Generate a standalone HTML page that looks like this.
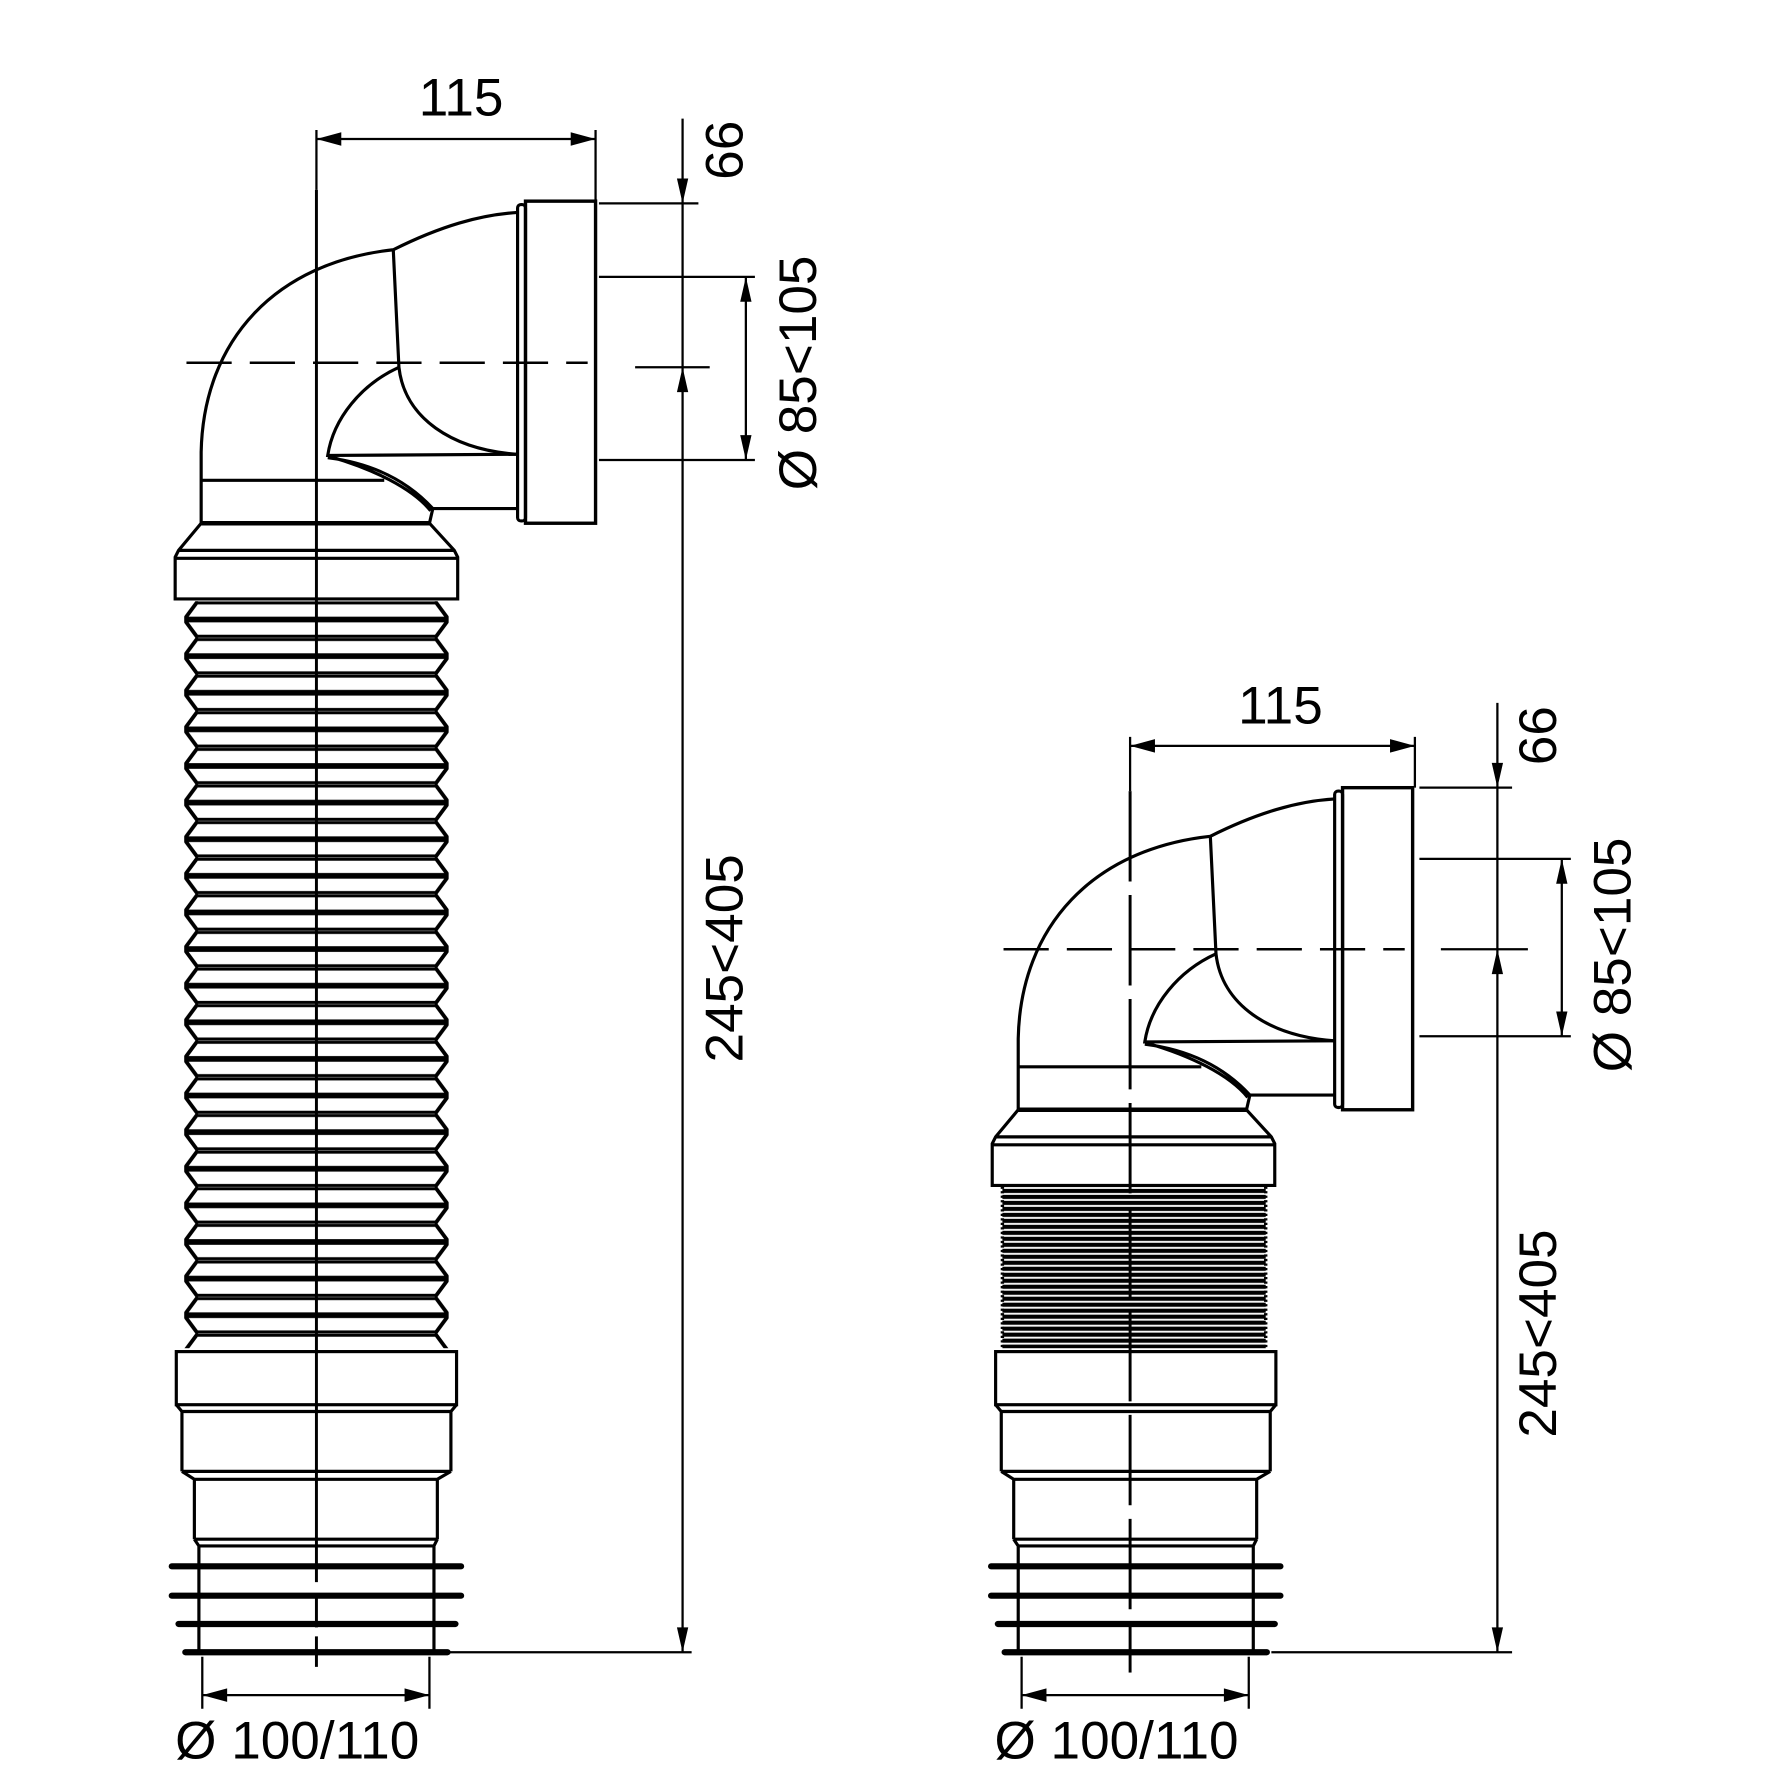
<!DOCTYPE html>
<html><head><meta charset="utf-8"><style>html,body{margin:0;padding:0;background:#fff}svg{display:block}</style></head>
<body>
<svg width="1772" height="1772" viewBox="0 0 1568 1568" xmlns="http://www.w3.org/2000/svg">
<defs>
<pattern id="bel" x="0" y="532" width="1568" height="32.4" patternUnits="userSpaceOnUse">
<path d="M175,0 L163,16.2 L175,32.4 M385,0 L397,16.2 L385,32.4" stroke="#000" stroke-width="3.4" fill="none"/>
<path d="M163,16.2 H397" stroke="#000" stroke-width="5"/>
<path d="M175,1.5 H385 M175,31 H385" stroke="#000" stroke-width="2.6"/>
</pattern>
<pattern id="thr" x="0" y="1052" width="1568" height="5.3" patternUnits="userSpaceOnUse">
<path d="M880,1.8 H1130" stroke="#000" stroke-width="3.6"/>
</pattern>
<g id="elbow" fill="none" stroke="#000" stroke-width="2.8">
<path d="M178,463 L178,400 C180,300 245,232 348,221 C390,200 425,190 458,188"/>
<path d="M348,221 L353,325 C358,370 400,398 458,402"/>
<path d="M353,325 C320,340 295,370 290,403 L458,402"/>
<path d="M290,405 C330,410 360,425 383,450 L458,450 M292,404 C330,415 365,432 381,452"/>
<path d="M178,425 H340"/>
<path d="M383,450 L380,463"/>
<rect x="458" y="181" width="7" height="280" rx="3"/>
<rect x="465" y="178" width="62" height="285" stroke-width="3"/>
<path d="M178,463 H380" stroke-width="4"/>
<path d="M178,463 L158,487 L155,493 L155,530 L405,530 L405,493 L402,487 L380,463 M158,487 H402 M155,494 H405"/>
</g>
<g id="lower" fill="none" stroke="#000" stroke-width="2.8">
<rect x="156" y="1196" width="248" height="47"/>
<path d="M156,1243 L161,1249 H399 L404,1243 M161,1249 V1302 M399,1249 V1302 M161,1302 L172,1309 H387 L399,1302 M161,1302 H399 M172,1309 V1362 M387,1309 V1362 M172,1362 H387 M172,1362 L176,1368 H384 L387,1362 M176,1368 V1462 M384,1368 V1462"/>
<g stroke-width="5.5" stroke-linecap="round">
<path d="M152,1386 H408 M152,1412 H408 M158,1437 H403 M164,1462 H396"/>
</g>
</g>
</defs>

<use href="#elbow"/>
<rect x="163" y="532" width="234" height="661" fill="url(#bel)"/>
<use href="#lower"/>
<path d="M280,168 V1400 M280,1410 V1440 M280,1448 V1475" stroke="#000" stroke-width="2.6"/>
<path d="M165,321 H520" stroke="#000" stroke-width="2.2" stroke-dasharray="40 16"/>

<g stroke="#000" stroke-width="2" fill="none">
<path d="M280,115 V168 M527,115 V178 M280,123 H527"/>
<path d="M530,180 H618 M530,245 H668 M562,325 H628 M530,407 H668"/>
<path d="M604,105 V1462 M660,245 V407"/>
<path d="M385,1462 H612"/>
<path d="M179,1466 V1512 M380,1466 V1512 M179,1500 H380"/>
</g>
<g fill="#000">
<path d="M280,123 l22,-6 v12z M527,123 l-22,-6 v12z"/>
<path d="M604,180 l-5,-22 h10z M604,325 l-5,22 h10z M604,1462 l-5,-22 h10z"/>
<path d="M660,245 l-5,22 h10z M660,407 l-5,-22 h10z"/>
<path d="M179,1500 l22,-6 v12z M380,1500 l-22,-6 v12z"/>
</g>

<g transform="translate(723,519)"><use href="#elbow"/></g>
<rect x="887" y="1050" width="233" height="143" fill="url(#thr)"/>
<path d="M887,1050 V1193 M1120,1050 V1193" stroke="#000" stroke-width="3" stroke-dasharray="2 2"/>
<g transform="translate(725,0)"><use href="#lower"/></g>
<path d="M1000,700 V1480" stroke="#000" stroke-width="2.6" stroke-dasharray="80 12"/>
<path d="M888,840 H1243" stroke="#000" stroke-width="2.2" stroke-dasharray="40 16"/>

<g stroke="#000" stroke-width="2" fill="none">
<path d="M1000,652 V700 M1252,652 V697 M1000,660 H1252"/>
<path d="M1256,697 H1338 M1256,760 H1390 M1275,840 H1352 M1256,917 H1390"/>
<path d="M1325,622 V1462 M1382,760 V917"/>
<path d="M1125,1462 H1338"/>
<path d="M904,1466 V1512 M1105,1466 V1512 M904,1500 H1105"/>
</g>
<g fill="#000">
<path d="M1000,660 l22,-6 v12z M1252,660 l-22,-6 v12z"/>
<path d="M1325,697 l-5,-22 h10z M1325,840 l-5,22 h10z M1325,1462 l-5,-22 h10z"/>
<path d="M1382,760 l-5,22 h10z M1382,917 l-5,-22 h10z"/>
<path d="M904,1500 l22,-6 v12z M1105,1500 l-22,-6 v12z"/>
</g>

<g font-family="'Liberation Sans', Arial, sans-serif" font-size="47" fill="#000">
<text x="408" y="102" text-anchor="middle">115</text>
<text x="1133" y="640" text-anchor="middle">115</text>
<text x="155" y="1556">Ø 100/110</text>
<text x="880" y="1556">Ø 100/110</text>
<text transform="translate(657,133) rotate(-90)" text-anchor="middle">66</text>
<text transform="translate(657,848) rotate(-90)" text-anchor="middle">245&lt;405</text>
<text transform="translate(722,330) rotate(-90)" text-anchor="middle">Ø 85&lt;105</text>
<text transform="translate(1377,651) rotate(-90)" text-anchor="middle">66</text>
<text transform="translate(1377,1180) rotate(-90)" text-anchor="middle">245&lt;405</text>
<text transform="translate(1443,845) rotate(-90)" text-anchor="middle">Ø 85&lt;105</text>
</g>
</svg>
</body></html>
